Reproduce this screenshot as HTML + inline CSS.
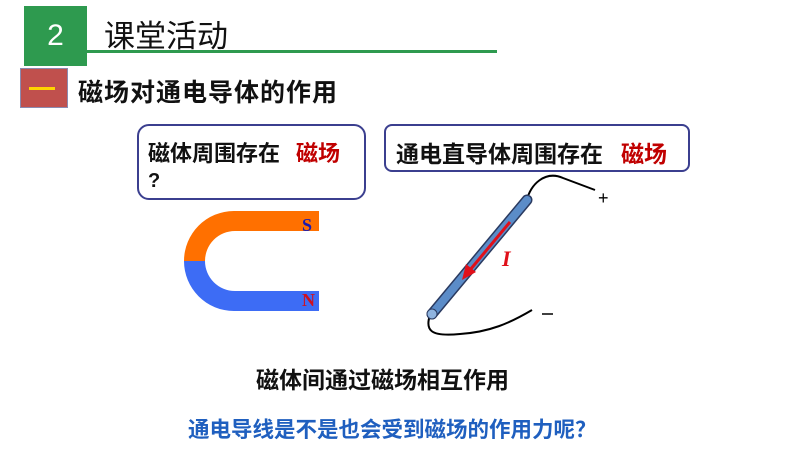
<!DOCTYPE html>
<html><head><meta charset="utf-8"><style>
body{margin:0;width:800px;height:450px;background:#fff;position:relative;overflow:hidden;font-family:"Liberation Sans","Noto Sans CJK SC",sans-serif}
.a{position:absolute;white-space:nowrap}
.b{font-weight:bold}
</style></head><body>
<div class="a" style="left:24px;top:6px;width:63px;height:60px;background:#2e9a4f;color:#fff;font-size:30px;line-height:60px;text-align:center">2</div>
<div class="a" style="left:87px;top:50px;width:410px;height:3px;background:#2e9a4f"></div>
<div class="a" style="left:104px;top:11px;font-size:31px;color:#111">课堂活动</div>
<div class="a" style="left:20px;top:68px;width:48px;height:40px;background:#c0504d;border:1px solid #8a8ab0;box-sizing:border-box"></div>
<div class="a" style="left:29px;top:87px;width:26px;height:3px;background:#ffd400"></div>
<div class="a b" style="left:78px;top:73px;font-size:25px;color:#111;letter-spacing:1px">磁场对通电导体的作用</div>
<div class="a" style="left:137px;top:124px;width:229px;height:76px;border:2px solid #3b3f8f;border-radius:12px;box-sizing:border-box"></div>
<div class="a b" style="left:148px;top:136px;font-size:22px;color:#111">磁体周围存在<span style="color:#c00000;margin-left:16px">磁场</span></div>
<div class="a b" style="left:148px;top:170px;font-size:20px;color:#111">?</div>
<div class="a" style="left:384px;top:124px;width:306px;height:48px;border:2px solid #3b3f8f;border-radius:8px;box-sizing:border-box"></div>
<div class="a b" style="left:396px;top:135px;font-size:23px;color:#111">通电直导体周围存在<span style="color:#c00000;margin-left:18px">磁场</span></div>
<svg class="a" style="left:0;top:0" width="800" height="450">
<path d="M319 211 H234 A50 50 0 0 0 184 261 H205 A30 30 0 0 1 235 231 H319 Z" fill="#ff7000"/>
<path d="M319 311 H234 A50 50 0 0 1 184 261 H205 A30 30 0 0 0 235 291 H319 Z" fill="#3d6cf5"/>
<text x="302" y="231" font-family="Liberation Serif" font-weight="bold" font-size="18" fill="#1a1ab0">S</text>
<text x="302" y="306" font-family="Liberation Serif" font-weight="bold" font-size="18" fill="#d01020">N</text>
<path d="M527 200 C530 185 545 170 563 178 L595 190" fill="none" stroke="#000" stroke-width="2"/>
<path d="M430 315 C425 330 430 337 460 334 C490 332 510 323 532 310" fill="none" stroke="#000" stroke-width="2"/>
<line x1="432" y1="314" x2="527" y2="200" stroke="#2a3a60" stroke-width="11" stroke-linecap="round"/>
<line x1="432" y1="314" x2="527" y2="200" stroke="#5b8cc8" stroke-width="8" stroke-linecap="round"/>
<ellipse cx="432" cy="314" rx="5" ry="5" fill="#8fb4e0" stroke="#2a3a60" stroke-width="1"/>
<line x1="510" y1="222" x2="470" y2="270" stroke="#e0101a" stroke-width="3"/>
<polygon points="462,280 466,264 476,272" fill="#e0101a"/>
<text x="502" y="266" font-family="Liberation Serif" font-style="italic" font-weight="bold" font-size="22" fill="#e0101a">I</text>
<text x="598" y="204" font-size="18" fill="#000">+</text>
<line x1="542" y1="314" x2="553" y2="314" stroke="#000" stroke-width="1.5"/>
</svg>
<div class="a b" style="left:256px;top:361px;font-size:23px;color:#111">磁体间通过磁场相互作用</div>
<div class="a b" style="left:188px;top:413px;font-size:21.5px;color:#1f5fbf">通电导线是不是也会受到磁场的作用力呢？</div>
</body></html>
